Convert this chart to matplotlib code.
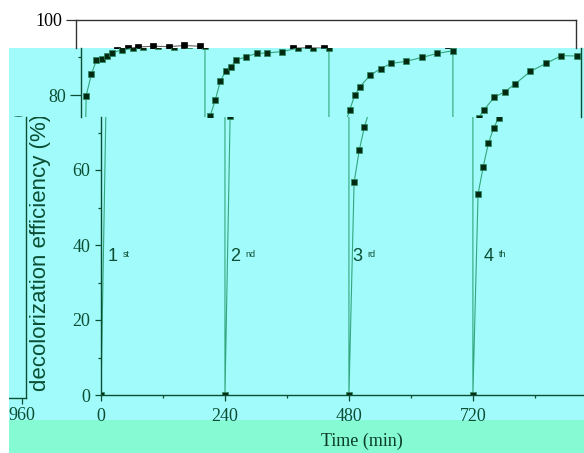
import numpy as np
import matplotlib
matplotlib.use("Agg")
import matplotlib.pyplot as plt
from matplotlib.patches import Rectangle
from matplotlib.ticker import MultipleLocator, FixedLocator, NullLocator
from matplotlib.transforms import Bbox, TransformedBbox

# sampling times inside one run (min)
t_rel = [0, 10, 20, 30, 40, 50, 60, 80, 100, 120, 150, 180, 210, 240]
run_length = 240

# decolorization efficiency (%) of the four runs
run_1 = [0, 79.8, 85.5, 89.3, 89.6, 90.5, 91.3, 92.0, 92.4, 92.8, 93.0, 92.9, 93.2, 93.0]
run_2 = [0, 74.4, 78.7, 83.8, 86.4, 87.5, 89.3, 90.2, 91.1, 91.2, 91.6, 92.5, 92.6, 92.5]
run_3 = [0, 56.7, 65.3, 71.5, 76.0, 79.9, 82.2, 85.3, 87.0, 88.4, 89.0, 90.0, 91.1, 91.8]
run_4 = [0, 53.6, 60.9, 67.1, 71.1, 74.0, 76.0, 79.4, 80.8, 82.9, 86.3, 88.4, 90.5, 90.4]

x_ticks = [0, 240, 480, 720]
run_numbers = ["1", "2", "3", "4"]
run_suffixes = ["st", "nd", "rd", "th"]
run_label_t = [23, 260, 497, 751]
run_label_y = 37

runs = [run_1, run_2, run_3, run_4]
time = np.concatenate([np.array(t_rel) + i * run_length for i in range(len(runs))])
eff = np.concatenate([np.array(r) for r in runs])

W, H = 584, 453
X_MAX = 968
SERIF = "Liberation Serif"
SANS = "Liberation Sans"
GREEN = "#0a4f33"


def val(py):
    # pixel row -> efficiency value (100 at row 20, 0 at row 395)
    return (395 - py) / 3.75


def box(left, top, right, bottom):
    return [left / W, 1 - bottom / H, (right - left) / W, (bottom - top) / H]


def style(ax, color, spines):
    ax.set_facecolor("none")
    for name, sp in ax.spines.items():
        sp.set_visible(name in spines)
        sp.set_color(color)
        sp.set_linewidth(1.0)
    ax.tick_params(which="both", direction="out", colors=color, width=0.9,
                   labelsize=13, pad=3)
    ax.tick_params(which="major", length=4.5)
    ax.tick_params(which="minor", length=2.5)
    for lab in ax.get_xticklabels() + ax.get_yticklabels():
        lab.set_fontfamily(SERIF)
    ax.set_xlim(0, X_MAX)


def draw_series(ax, face, edge, line):
    ax.plot(time, eff, "-", color=line, lw=0.8, marker="s", ms=5,
            mfc=face, mec=edge, mew=0.5)


fig = plt.figure(figsize=(W / 100, H / 100), dpi=100)
fig.patch.set_facecolor("white")
fig.add_artist(Rectangle((9 / W, 1 - 420 / H), (W - 9) / W, (420 - 48) / H,
                         transform=fig.transFigure, color="#a2fbfb", zorder=-2, lw=0))
fig.add_artist(Rectangle((9 / W, 0), (W - 9) / W, (H - 420) / H,
                         transform=fig.transFigure, color="#86fbd3", zorder=-2, lw=0))

# top strip (white band)
ax0 = fig.add_axes(box(76, 20, 576, 48))
draw_series(ax0, "black", "black", "#666666")
ax0.set_ylim(val(48), 100)
ax0.yaxis.set_major_locator(FixedLocator([100]))
ax0.xaxis.set_major_locator(NullLocator())
style(ax0, "#333333", ["top", "left", "right"])
ax0.tick_params(axis="y", labelcolor="black")
ax0.tick_params(axis="y", which="major", length=7)

# middle strip
ax1 = fig.add_axes(box(81, 48, 581, 117))
draw_series(ax1, "#002a12", "#2a8a60", "#32a67c")
ax1.set_ylim(val(117), val(48))
ax1.yaxis.set_major_locator(MultipleLocator(20))
ax1.yaxis.set_minor_locator(MultipleLocator(10))
ax1.xaxis.set_major_locator(NullLocator())
style(ax1, GREEN, ["left", "right"])
ax1.tick_params(axis="y", which="major", length=8)

# main strip
ax2 = fig.add_axes(box(101, 117, 601, 395))
draw_series(ax2, "#002a12", "#2a8a60", "#32a67c")
ax2.set_ylim(0, val(117))
ax2.yaxis.set_major_locator(MultipleLocator(20))
ax2.yaxis.set_minor_locator(MultipleLocator(10))
ax2.xaxis.set_major_locator(FixedLocator(x_ticks))
ax2.xaxis.set_minor_locator(MultipleLocator(120))
style(ax2, GREEN, ["left", "bottom", "right"])
ax2.tick_params(axis="x", pad=5)
for num, suf, tx in zip(run_numbers, run_suffixes, run_label_t):
    ax2.text(tx, run_label_y, num, ha="center", va="center", fontsize=13,
             family=SANS, color=GREEN)
    ax2.annotate(suf, xy=(tx, run_label_y), xytext=(7, 4.5), textcoords="offset points",
                 ha="left", va="top", fontsize=6.5, family=SANS, color=GREEN)

# wrapped right edge of the main strip
ax3 = fig.add_axes(box(22 - 960 * 500 / X_MAX, 117, 22 + 8 * 500 / X_MAX, 398))
ax3.set_ylim(0, val(117))
ax3.yaxis.set_major_locator(NullLocator())
ax3.xaxis.set_major_locator(FixedLocator([960]))
style(ax3, GREEN, ["bottom", "right"])
ax3.set_xlim(0, X_MAX)
ax3.tick_params(axis="x", pad=2)

# x label
fig.text(362 / W, 1 - 441 / H, "Time (min)", ha="center", va="center",
         fontsize=13, family=SERIF, color="#0b3d28")

# y label, split across the two strips
ylab = "decolorization efficiency (%)"
t_low = fig.text(41 / W, 1 - 252 / H, ylab, rotation=90, ha="center", va="center",
                 fontsize=16, family=SANS, color=GREEN)
t_low.set_clip_box(TransformedBbox(Bbox([[9 / W, 0], [1, 1 - 117 / H]]), fig.transFigure))
t_low.set_clip_on(True)
t_up = fig.text(20 / W, 1 - 252 / H, ylab, rotation=90, ha="center", va="center",
                fontsize=16, family=SANS, color=GREEN)
t_up.set_clip_box(TransformedBbox(Bbox([[9 / W, 1 - 117 / H], [1, 1 - 48 / H]]),
                                  fig.transFigure))
t_up.set_clip_on(True)

fig.add_artist(Rectangle((0, 0), 9 / W, 1, transform=fig.transFigure,
                         color="white", zorder=10, lw=0))

fig.savefig("out.png", dpi=100)
